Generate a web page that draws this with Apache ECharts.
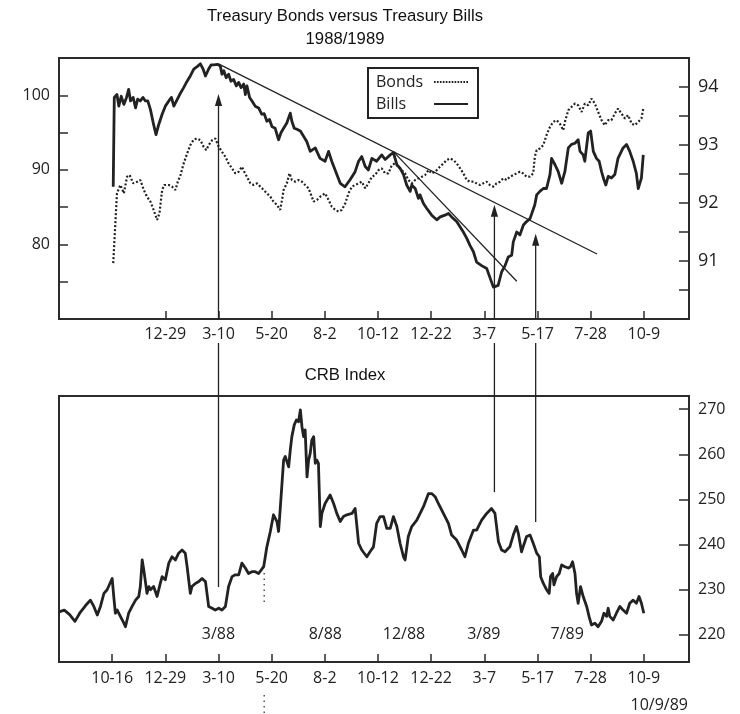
<!DOCTYPE html>
<html><head><meta charset="utf-8">
<script src="https://cdn.jsdelivr.net/npm/echarts@6/dist/echarts.min.js"></script>
<style>html,body{margin:0;padding:0;background:#fff}#c{width:740px;height:714px}</style>
</head><body><div id="c"></div>
<script>
// x unit: weeks counted from 10-16-87
const tickWeeks = [0, 10, 20, 30, 40, 50, 60, 70, 80, 90, 100];
const tickLabels = ['10-16', '12-29', '3-10', '5-20', '8-2', '10-12', '12-22', '3-7', '5-17', '7-28', '10-9'];

const bondsData = [[0.2,77.5],[0.9,86.85],[1.55,87.97],[2.2,86.85],[2.8,89.08],[3.3,89.3],[3.95,88.19],[4.7,88.41],[5.3,88.64],[5.95,87.3],[6.55,86.41],[7.2,85.74],[7.8,84.63],[8.45,83.29],[8.9,84.18],[9.4,87.3],[9.8,87.97],[10.65,87.97],[11.25,87.75],[11.9,87.3],[12.35,88.41],[12.85,89.3],[13.45,90.86],[14.1,92.2],[14.7,93.32],[15.35,94.07],[15.95,94.21],[16.6,93.98],[17.2,93.09],[17.7,92.65],[18.15,93.32],[18.8,93.98],[19.4,94.21],[20.05,93.09],[20.65,92.42],[21.3,91.76],[21.9,90.86],[22.55,90.2],[23.15,89.53],[23.8,89.75],[24.4,90.42],[24.85,89.75],[25.35,89.08],[26.0,88.19],[26.6,87.97],[27.25,88.19],[27.85,87.75],[28.5,87.3],[29.1,86.85],[29.75,86.41],[30.35,85.74],[31.0,85.29],[31.6,84.63],[31.95,85.96],[32.25,87.3],[32.85,88.19],[33.35,89.53],[33.8,88.64],[34.45,88.41],[35.05,88.64],[35.7,88.41],[36.3,87.97],[36.95,87.52],[37.9,85.74],[38.5,85.96],[39.15,86.41],[40.05,86.85],[40.7,85.96],[41.3,85.07],[41.95,84.63],[42.6,84.4],[43.2,84.63],[43.85,85.52],[44.45,86.85],[45.1,87.75],[45.7,87.97],[46.35,88.19],[46.95,88.41],[47.6,87.52],[48.2,88.19],[48.85,89.08],[49.45,89.3],[50.1,89.97],[50.7,90.2],[51.35,89.53],[51.95,89.53],[52.6,90.64],[53.2,90.86],[53.85,90.42],[54.45,89.97],[55.1,89.53],[55.7,88.64],[56.35,88.19],[57.0,88.64],[57.6,88.86],[58.25,89.08],[58.85,89.3],[59.5,89.97],[60.1,89.53],[60.75,89.75],[61.65,90.42],[62.3,90.86],[62.9,91.31],[63.55,91.53],[64.2,91.31],[64.8,90.86],[65.45,90.2],[66.05,89.53],[66.7,88.64],[67.3,88.41],[67.95,88.41],[68.55,88.19],[69.2,87.97],[69.8,88.19],[70.45,88.41],[71.05,87.97],[71.7,87.75],[72.3,88.19],[72.95,88.41],[73.55,88.86],[74.2,88.64],[74.8,89.08],[75.45,89.3],[76.05,89.53],[76.7,89.75],[77.3,89.53],[77.95,89.08],[78.55,89.08],[79.2,89.53],[79.5,91.76],[79.85,92.65],[80.45,92.87],[81.1,93.32],[81.7,94.65],[82.35,95.77],[82.95,96.43],[83.6,96.66],[84.2,96.21],[84.85,95.32],[85.15,96.43],[85.8,97.99],[86.4,98.44],[87.05,98.89],[87.65,98.66],[88.3,97.77],[88.9,98.89],[89.55,98.66],[90.15,99.55],[90.8,98.89],[91.4,97.77],[92.05,96.66],[92.65,95.99],[93.3,96.66],[93.9,96.66],[94.55,97.55],[95.15,98.22],[95.8,97.55],[96.45,96.88],[97.05,97.33],[97.7,96.21],[98.3,95.99],[98.95,96.43],[99.55,96.88],[99.9,98.22]];

const billsData = [[0.2,92.28],[0.4,93.82],[0.9,93.87],[1.25,93.67],[1.7,93.84],[2.2,93.7],[2.7,93.82],[3.1,93.96],[3.45,93.76],[3.95,93.82],[4.4,93.64],[4.8,93.79],[5.3,93.76],[5.8,93.82],[6.25,93.76],[6.7,93.76],[7.2,93.61],[7.8,93.35],[8.25,93.18],[8.75,93.35],[9.4,93.53],[10.0,93.67],[10.65,93.76],[11.15,93.82],[11.6,93.67],[12.1,93.76],[12.7,93.87],[13.45,93.99],[14.1,94.1],[14.7,94.19],[15.35,94.31],[16.1,94.36],[16.6,94.4],[17.1,94.31],[17.55,94.19],[18.15,94.31],[18.6,94.38],[19.1,94.38],[19.85,94.39],[20.35,94.36],[20.65,94.22],[21.0,94.28],[21.45,94.16],[21.9,94.22],[22.35,94.1],[22.85,94.13],[23.35,94.02],[23.8,94.08],[24.25,93.99],[24.75,94.05],[25.05,93.87],[25.35,94.02],[25.85,93.82],[26.3,93.76],[26.9,93.67],[27.55,93.64],[28.15,93.53],[28.6,93.54],[29.1,93.41],[29.6,93.44],[30.05,93.32],[30.65,93.29],[31.3,93.09],[31.75,93.21],[32.25,93.29],[32.85,93.38],[33.5,93.55],[33.8,93.41],[34.25,93.29],[34.75,93.27],[35.4,93.24],[36.0,93.15],[36.6,93.06],[37.25,92.89],[38.2,92.95],[39.1,92.77],[40.05,92.72],[40.7,92.89],[41.3,92.72],[42.9,92.34],[43.8,92.28],[44.75,92.4],[45.7,92.54],[46.35,92.72],[46.95,92.8],[47.6,92.63],[48.2,92.57],[48.85,92.77],[49.75,92.72],[50.7,92.83],[51.35,92.75],[52.3,92.83],[52.9,92.87],[53.55,92.66],[54.15,92.6],[54.8,92.49],[55.4,92.31],[56.05,92.2],[56.35,92.31],[57.0,92.25],[57.6,92.08],[57.9,92.14],[58.55,91.99],[59.15,91.91],[60.1,91.79],[61.05,91.71],[61.7,91.76],[62.6,91.79],[63.25,91.82],[63.85,91.76],[64.8,91.68],[66.05,91.5],[66.7,91.39],[67.3,91.27],[67.95,91.16],[68.55,90.98],[69.5,90.92],[70.45,90.87],[71.35,90.64],[71.7,90.55],[72.6,90.58],[73.25,90.81],[73.9,90.92],[74.5,91.07],[75.15,91.1],[75.45,91.33],[76.1,91.5],[76.7,91.45],[77.35,91.62],[77.95,91.68],[78.6,91.73],[79.5,91.97],[79.85,92.14],[80.45,92.2],[81.1,92.25],[81.7,92.25],[82.35,92.49],[82.65,92.77],[83.3,92.66],[83.9,92.54],[84.55,92.34],[85.15,92.54],[85.8,92.95],[86.4,93.01],[87.05,93.03],[87.65,93.09],[88.0,92.89],[88.6,92.83],[88.9,92.72],[89.55,93.21],[90.0,93.24],[90.5,92.89],[91.1,92.77],[91.6,92.72],[92.05,92.54],[92.5,92.4],[92.85,92.31],[93.3,92.46],[93.9,92.43],[94.55,92.49],[95.15,92.77],[96.1,92.95],[96.75,93.01],[97.35,92.89],[98.0,92.72],[98.6,92.51],[98.95,92.25],[99.25,92.23],[99.55,92.43],[99.9,92.83]];

const crbData = [[-10,225.1],[-9,225.5],[-8,224.5],[-7,223.0],[-6,225.0],[-5,226.5],[-4.1,227.7],[-3.45,226.3],[-2.8,224.4],[-2.2,226.3],[-1.55,229.2],[-0.95,230.0],[0,232.5],[0.3,228.5],[0.6,224.8],[0.95,225.5],[1.55,224.1],[2.2,222.6],[2.5,221.8],[3.1,224.8],[3.75,226.3],[4.4,227.7],[5.0,228.5],[5.3,230.7],[5.65,236.6],[5.95,234.4],[6.55,229.2],[6.9,230.7],[7.2,230.0],[7.8,230.7],[8.45,228.5],[9.05,231.4],[9.4,232.9],[10.0,232.2],[10.65,235.9],[11.25,237.3],[11.9,236.6],[12.5,238.1],[13.15,238.8],[13.75,238.1],[14.1,235.1],[14.7,229.2],[15.0,230.7],[15.65,231.4],[16.3,231.8],[16.9,232.5],[17.55,231.8],[18.15,226.3],[18.8,225.9],[19.4,225.5],[20.05,225.9],[20.65,225.5],[21.3,226.3],[21.9,230.7],[22.55,232.9],[23.15,233.3],[23.8,233.3],[24.4,235.9],[25.05,234.8],[25.65,233.6],[26.3,234.0],[26.9,234.0],[27.55,233.6],[28.5,235.1],[29.1,239.5],[29.75,242.9],[30.35,246.6],[31.0,245.1],[31.3,242.9],[31.6,247.7],[32.25,258.7],[32.55,259.5],[33.2,257.2],[33.5,260.9],[33.8,263.9],[34.25,266.5],[34.65,267.6],[35.05,267.2],[35.4,269.8],[35.7,266.1],[36.0,263.9],[36.3,265.4],[36.65,255.0],[36.95,258.7],[37.25,260.2],[37.55,263.1],[37.9,263.9],[38.2,258.0],[38.5,258.7],[38.8,258.0],[39.15,244.0],[39.45,246.9],[40.05,249.1],[41.0,251.0],[41.65,249.1],[42.25,246.9],[42.9,245.1],[43.5,246.2],[44.15,246.6],[45.1,246.9],[45.7,248.0],[46.35,240.3],[46.95,238.8],[47.9,237.3],[48.5,238.4],[49.15,239.5],[49.75,244.7],[50.4,246.2],[51.05,246.2],[51.65,243.6],[52.3,243.6],[52.9,246.2],[53.55,244.0],[54.15,240.3],[54.8,237.3],[55.1,236.6],[55.7,241.8],[56.35,244.0],[57.3,245.4],[58.55,248.4],[59.5,251.3],[60.1,251.3],[60.75,250.6],[61.35,249.1],[62.3,246.9],[63.25,244.7],[63.85,242.1],[64.8,241.0],[65.75,238.8],[66.35,237.3],[67.0,240.3],[67.95,243.2],[68.55,243.2],[69.5,245.4],[70.45,246.9],[71.35,248.0],[72.0,246.9],[72.65,240.7],[73.25,238.8],[73.9,238.4],[74.8,239.5],[75.45,242.1],[76.05,244.0],[76.4,242.5],[77.0,238.4],[77.3,239.5],[77.95,241.8],[78.6,242.1],[78.9,242.5],[79.2,240.3],[79.85,238.1],[80.35,237.3],[80.6,232.9],[81.1,231.4],[81.7,230.0],[82.2,229.2],[82.45,232.9],[82.85,233.6],[83.1,231.1],[83.6,232.9],[84.1,233.6],[84.55,235.5],[85.15,235.1],[85.8,234.8],[86.2,235.1],[86.6,236.2],[87.05,233.6],[87.35,229.2],[87.65,227.0],[88.1,230.7],[88.6,228.5],[89.25,226.3],[89.7,224.1],[90.15,222.2],[90.8,222.6],[91.4,221.8],[92.05,223.0],[92.5,224.8],[93.0,224.1],[93.3,225.9],[93.6,224.1],[94.25,223.3],[94.85,224.8],[95.5,226.3],[96.1,225.5],[96.75,224.8],[97.35,227.0],[98.0,227.7],[98.6,227.0],[99.1,228.5],[99.55,227.0],[100.0,224.8]];

// Trend lines drawn on the Bills scale: [week, bills]
const trendLine1 = [[20.0, 94.40], [91.2, 91.12]];
const trendLine2 = [[52.85, 92.89], [76.1, 90.65]];

// Vertical arrows: week, tip on Bills scale, foot on CRB scale
const arrowWeeks = [20.0, 71.9, 79.66];
const arrowTips = [93.88, 91.97, 91.47];
const arrowFeet = [230.6, 251.6, 245.0];

// Period labels in the CRB panel
const periodLabels = ['3/88', '8/88', '12/88', '3/89', '7/89'];
const periodWeeks = [20.0, 40.1, 54.9, 69.9, 85.6];
const periodLevel = 220;

// dotted marker near 5-20
const dotMarkWeek = 28.6;
const dotMarkRange = [233.7, 227.1];

const INK = '#222';
const AXIS = '#2b2b2b';
const FONT = 'Open Sans';

function xLabel(v) {
  const i = tickWeeks.indexOf(Math.round(v));
  return i >= 0 ? tickLabels[i] : '';
}

// legend icons (style only): a dotted bar and a solid bar
function dottedIcon() {
  let p = '';
  for (let x = 0; x < 34; x += 3) p += 'M' + x + ',0h1.7v2h-1.7z';
  return 'path://' + p;
}
const solidIcon = 'path://M0,0h34v2h-34z';

const chart = echarts.init(document.getElementById('c'), null, { renderer: 'canvas' });

const gridStyle = { show: true, borderColor: AXIS, borderWidth: 2, backgroundColor: 'transparent' };

const option = {
  animation: false,
  backgroundColor: '#fff',
  grid: [
    Object.assign({ left: 59, right: 51, top: 58, height: 261 }, gridStyle),
    Object.assign({ left: 59, right: 51, top: 396, height: 266 }, gridStyle)
  ],
  legend: {
    data: [{ name: 'Bonds', icon: dottedIcon() }, { name: 'Bills', icon: solidIcon }],
    orient: 'vertical',
    left: 368, top: 68,
    align: 'right',
    itemWidth: 34, itemHeight: 2.6, itemGap: 6,
    padding: [6, 10, 6, 8],
    borderColor: INK, borderWidth: 2, borderRadius: 0,
    selectedMode: false,
    formatter: n => '{t|' + n + '}',
    textStyle: { fontFamily: FONT, fontSize: 16, color: INK, rich: { t: { width: 53, align: 'left', fontFamily: FONT, fontSize: 16, color: INK, lineHeight: 19 } } }
  },
  xAxis: [
    {
      type: 'value', gridIndex: 0, min: -10, max: 108.5,
      axisLine: { show: false, onZero: false },
      axisTick: { show: true, inside: true, length: 8, lineStyle: { color: AXIS, width: 1.5 }, customValues: tickWeeks.slice(1) },
      axisLabel: { customValues: tickWeeks.slice(1), formatter: xLabel, fontFamily: FONT, fontSize: 16, color: INK, margin: 7 },
      splitLine: { show: false }
    },
    {
      type: 'value', gridIndex: 1, min: -10, max: 108.5,
      axisLine: { show: false, onZero: false },
      axisTick: { show: true, inside: true, length: 8, lineStyle: { color: AXIS, width: 1.5 }, customValues: tickWeeks },
      axisLabel: { customValues: tickWeeks, formatter: xLabel, fontFamily: FONT, fontSize: 16, color: INK, margin: 8 },
      splitLine: { show: false }
    }
  ],
  yAxis: [
    {
      type: 'value', gridIndex: 0, position: 'left', min: 70, max: 105, interval: 5,
      axisLine: { show: false, onZero: false },
      axisTick: { show: true, inside: true, length: 9, lineStyle: { color: AXIS, width: 1.5 } },
      axisLabel: { formatter: v => (v % 10 === 0 && v >= 80 && v <= 100) ? String(v) : '', fontFamily: FONT, fontSize: 16, color: INK, margin: 9 },
      splitLine: { show: false }
    },
    {
      type: 'value', gridIndex: 0, position: 'right', min: 90, max: 94.5, interval: 0.5,
      axisLine: { show: false, onZero: false },
      axisTick: { show: true, inside: true, length: 10, lineStyle: { color: AXIS, width: 1.5 } },
      axisLabel: { formatter: v => (Math.abs(v - Math.round(v)) < 1e-6 && v >= 91) ? String(Math.round(v)) : '', fontFamily: FONT, fontSize: 18, color: INK, margin: 9 },
      splitLine: { show: false }
    },
    {
      type: 'value', gridIndex: 1, position: 'right', min: 214, max: 272.9,
      axisLine: { show: false, onZero: false },
      axisTick: { show: true, inside: true, length: 10, lineStyle: { color: AXIS, width: 1.5 }, customValues: [220, 230, 240, 250, 260, 270] },
      axisLabel: { customValues: [220, 230, 240, 250, 260, 270], fontFamily: FONT, fontSize: 16, color: INK, margin: 9 },
      splitLine: { show: false }
    }
  ],
  series: [
    {
      name: 'Bonds', type: 'line', xAxisIndex: 0, yAxisIndex: 0, data: bondsData,
      symbol: 'none', showSymbol: false, color: INK, z: 3,
      lineStyle: { color: INK, width: 2.2, type: [2, 2] }
    },
    {
      name: 'Bills', type: 'line', xAxisIndex: 0, yAxisIndex: 1, data: billsData,
      symbol: 'none', showSymbol: false, color: INK, z: 4,
      lineStyle: { color: INK, width: 2.8, join: 'round' }
    },
    {
      name: 'trend1', type: 'line', xAxisIndex: 0, yAxisIndex: 1, data: trendLine1,
      symbol: 'none', silent: true, color: INK, z: 5,
      lineStyle: { color: INK, width: 1.3 }
    },
    {
      name: 'trend2', type: 'line', xAxisIndex: 0, yAxisIndex: 1, data: trendLine2,
      symbol: 'none', silent: true, color: INK, z: 5,
      lineStyle: { color: INK, width: 1.3 }
    },
    {
      name: 'CRB Index', type: 'line', xAxisIndex: 1, yAxisIndex: 2, data: crbData,
      symbol: 'none', showSymbol: false, color: INK, z: 4,
      lineStyle: { color: INK, width: 2.8, join: 'round' }
    }
  ]
};
chart.setOption(option);

// Annotations placed through the chart's own coordinate systems
const P0 = (w, v) => chart.convertToPixel({ xAxisIndex: 0, yAxisIndex: 1 }, [w, v]);
const P1 = (w, v) => chart.convertToPixel({ xAxisIndex: 1, yAxisIndex: 2 }, [w, v]);
const topAxisY = P0(0, 90)[1];
const botAxisY = P1(0, 214)[1];
const LABEL_GAP = 24;
const HEAD_LEN = 12, HEAD_HALF = 3.6;
const TITLE_FONT = '16.7px "Liberation Sans", Arial, sans-serif';

const g = [];
const titleX = P0(43.8, 94)[0];
g.push({ type: 'text', x: titleX, y: 16, silent: true, z: 10,
  style: { text: 'Treasury Bonds versus Treasury Bills', fill: '#111', font: TITLE_FONT, textAlign: 'center', textVerticalAlign: 'middle' } });
g.push({ type: 'text', x: titleX, y: 39, silent: true, z: 10,
  style: { text: '1988/1989', fill: '#111', font: TITLE_FONT, textAlign: 'center', textVerticalAlign: 'middle' } });
g.push({ type: 'text', x: titleX, y: 375, silent: true, z: 10,
  style: { text: 'CRB Index', fill: '#111', font: TITLE_FONT, textAlign: 'center', textVerticalAlign: 'middle' } });

arrowWeeks.forEach((w, i) => {
  const tip = P0(w, arrowTips[i]);
  const foot = P1(w, arrowFeet[i]);
  const x = tip[0];
  g.push({ type: 'polygon', silent: true, z: 20,
    shape: { points: [[x, tip[1]], [x - HEAD_HALF, tip[1] + HEAD_LEN], [x + HEAD_HALF, tip[1] + HEAD_LEN]] },
    style: { fill: INK } });
  g.push({ type: 'line', silent: true, z: 20,
    shape: { x1: x, y1: tip[1] + HEAD_LEN - 1, x2: x, y2: topAxisY },
    style: { stroke: INK, lineWidth: 1.3 } });
  g.push({ type: 'line', silent: true, z: 20,
    shape: { x1: x, y1: topAxisY + LABEL_GAP, x2: x, y2: foot[1] },
    style: { stroke: INK, lineWidth: 1.3 } });
});

periodLabels.forEach((t, i) => {
  const p = P1(periodWeeks[i], periodLevel);
  g.push({ type: 'text', x: p[0], y: p[1], silent: true, z: 10,
    style: { text: t, fill: INK, font: '16px "' + FONT + '"', textAlign: 'center', textVerticalAlign: 'middle' } });
});

const d1 = P1(dotMarkWeek, dotMarkRange[0]);
const d2 = P1(dotMarkWeek, dotMarkRange[1]);
g.push({ type: 'line', silent: true, z: 10,
  shape: { x1: d1[0], y1: d1[1], x2: d2[0], y2: d2[1] },
  style: { stroke: '#555', lineWidth: 1.5, lineDash: [1.5, 4] } });
g.push({ type: 'line', silent: true, z: 10,
  shape: { x1: d1[0], y1: botAxisY + 33, x2: d1[0], y2: botAxisY + 51 },
  style: { stroke: '#555', lineWidth: 1.5, lineDash: [1.5, 4] } });

const dateEnd = P1(108.5, 214);
g.push({ type: 'text', x: dateEnd[0] - 1, y: botAxisY + 43, silent: true, z: 10,
  style: { text: '10/9/89', fill: INK, font: '16px "' + FONT + '"', textAlign: 'right', textVerticalAlign: 'middle' } });

chart.setOption({ graphic: g });
</script>
</body></html>
